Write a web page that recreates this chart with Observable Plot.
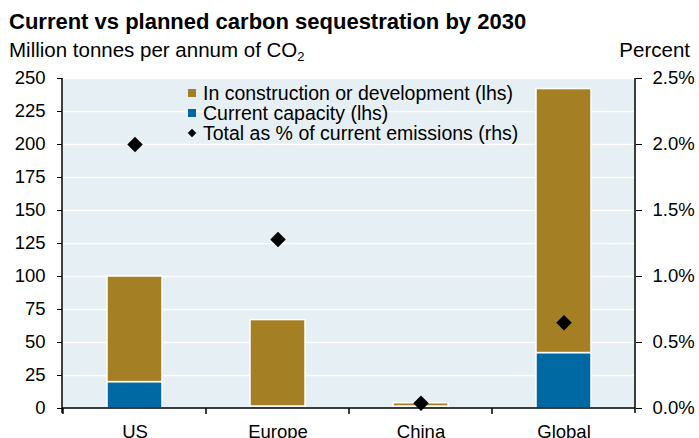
<!DOCTYPE html>
<html>
<head>
<meta charset="utf-8">
<script src="https://cdn.jsdelivr.net/npm/d3@7"></script>
<script src="https://cdn.jsdelivr.net/npm/@observablehq/plot@0.6"></script>
<style>
  html, body { margin: 0; padding: 0; background: #fff; }
  body { font-family: "Liberation Sans", Arial, Helvetica, sans-serif; color: #000; }
  #wrap { position: relative; width: 699px; height: 438px; overflow: hidden; }
  .title { font-weight: bold; font-size: 22px; line-height: 26px; padding: 9px 0 0 9px; white-space: nowrap; }
  .sub { display: flex; justify-content: space-between; font-size: 20.5px; line-height: 24px; margin-top: 3px; padding: 0 9px 0 9px; white-space: nowrap; }
  .sub sub { font-size: 13px; line-height: 0; vertical-align: -4px; }
  #chart svg { display: block; }
  .legend { position: absolute; left: 188px; top: 83px; font-size: 19.5px; line-height: 20px; white-space: nowrap; }
  .legend .row { display: flex; align-items: center; height: 20px; }
  .legend .sw { width: 8px; height: 8px; margin-right: 7px; flex: none; }
  .legend .dm { width: 6px; height: 6px; margin: 0 8px 0 1px; background: #000; transform: rotate(45deg); flex: none; }
</style>
</head>
<body>
<div id="wrap">
  <div class="title">Current vs planned carbon sequestration by 2030</div>
  <div class="sub"><span>Million tonnes per annum of CO<sub>2</sub></span><span>Percent</span></div>
  <div id="chart"></div>
  <div class="legend" id="legend"></div>
</div>
<script>
// ---- data ----
const categories = ["US", "Europe", "China", "Global"];
const currentCapacity = [20, 1.5, 1.5, 42];          // million tonnes (lhs)
const inConstruction = [80, 65.5, 2.5, 200];         // million tonnes (lhs)
const pctOfEmissions = [2.0, 1.28, 0.04, 0.65];      // percent (rhs)
const seriesNames = ["Current capacity (lhs)", "In construction or development (lhs)"];
const seriesColors = ["#0068a3", "#a47f24"];
const dotLabel = "Total as % of current emissions (rhs)";
const leftTicks = [0, 25, 50, 75, 100, 125, 150, 175, 200, 225, 250];
const rightTicks = [0, 0.5, 1.0, 1.5, 2.0, 2.5];
const pctToLhs = 100; // 2.5% on rhs <-> 250 on lhs

// ---- tables ----
const stacked = [];
categories.forEach((c, i) => {
  stacked.push({region: c, series: seriesNames[0], value: currentCapacity[i]});
  stacked.push({region: c, series: seriesNames[1], value: inConstruction[i]});
});
const dots = categories.map((c, i) => ({region: c, pct: pctOfEmissions[i]}));

const fontFamily = '"Liberation Sans", Arial, Helvetica, sans-serif';

const plot = Plot.plot({
  width: 699,
  height: 376,
  marginLeft: 62,
  marginRight: 64,
  marginTop: 16,
  marginBottom: 30,
  style: {fontFamily, fontSize: "18.5px", color: "#000", background: "transparent"},
  x: {type: "band", domain: categories, padding: 0, label: null},
  y: {domain: [0, 250], label: null},
  color: {domain: seriesNames, range: seriesColors},
  marks: [
    Plot.frame({fill: "#e6eff3", stroke: null}),
    Plot.gridY(leftTicks, {stroke: "#fff", strokeOpacity: 1, strokeWidth: 1.5}),
    Plot.barY(stacked, {x: "region", y: "value", fill: "series", stroke: "#fff", strokeWidth: 1.5, insetLeft: 44, insetRight: 44}),
    Plot.axisY({anchor: "left", ticks: leftTicks, tickSize: 5, tickPadding: 12, fontSize: 18.5, label: null}),
    Plot.axisY({anchor: "right", ticks: rightTicks.map(t => t * pctToLhs), tickSize: 6, tickPadding: 11, fontSize: 18.5, label: null,
      tickFormat: d => (d / pctToLhs).toFixed(1) + "%"}),
    Plot.axisX({anchor: "bottom", tickSize: 0, tickPadding: 16, fontSize: 18.5, label: null}),
    (index, scales, values, dims) => {
      const x = scales.x, y = scales.y;
      const bw = x.bandwidth ? x.bandwidth() : (dims.width - dims.marginLeft - dims.marginRight) / categories.length;
      const y0 = y(0);
      const top = y(250);
      const L = dims.marginLeft, R = dims.width - dims.marginRight;
      const g = d3.create("svg:g").attr("stroke", "#000").attr("fill", "none");
      g.append("line").attr("x1", L).attr("x2", L).attr("y1", top).attr("y2", y0 + 5).attr("stroke-width", 1.5);
      g.append("line").attr("x1", R).attr("x2", R).attr("y1", top).attr("y2", y0 + 5).attr("stroke-width", 1.5);
      g.append("line").attr("x1", L).attr("x2", R).attr("y1", y0).attr("y2", y0).attr("stroke-width", 1.5);
      categories.forEach(c => {
        const xe = x(c);
        g.append("line").attr("x1", xe).attr("x2", xe).attr("y1", y0).attr("y2", y0 + 6).attr("stroke-width", 1.5);
      });
      return g.node();
    },
    Plot.dot(dots, {x: "region", y: d => d.pct * pctToLhs, symbol: "diamond2", r: 7, fill: "#000", stroke: null})
  ]
});
document.getElementById("chart").appendChild(plot);

// ---- legend ----
const legend = document.getElementById("legend");
[[seriesColors[1], seriesNames[1]], [seriesColors[0], seriesNames[0]]].forEach(([col, name]) => {
  const row = document.createElement("div");
  row.className = "row";
  row.innerHTML = `<span class="sw" style="background:${col}"></span><span>${name}</span>`;
  legend.appendChild(row);
});
const drow = document.createElement("div");
drow.className = "row";
drow.innerHTML = `<span class="dm"></span><span>${dotLabel}</span>`;
legend.appendChild(drow);
</script>
</body>
</html>
